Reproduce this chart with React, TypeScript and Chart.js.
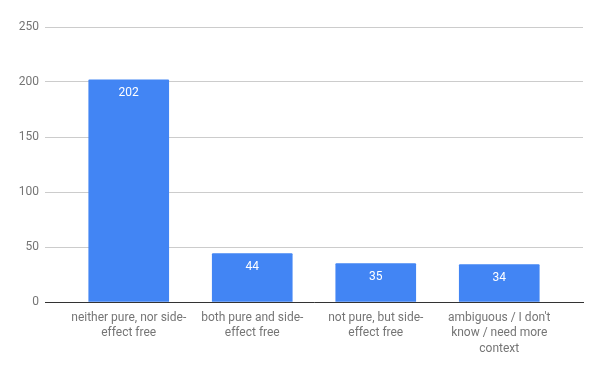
import React, { useEffect, useRef } from "react";
import { Chart, registerables } from "chart.js";

Chart.register(...registerables);

const categories: string[][] = [
  ["neither pure, nor side-", "effect free"],
  ["both pure and side-", "effect free"],
  ["not pure, but side-", "effect free"],
  ["ambiguous / I don't", "know / need more", "context"],
];
const values: number[] = [202, 44, 35, 34];
const yTicks: number[] = [0, 50, 100, 150, 200, 250];

const FONT = "Roboto, 'Noto Sans', sans-serif";

const valueLabels = {
  id: "valueLabels",
  afterDatasetsDraw(chart: any) {
    const ctx = chart.ctx;
    const meta = chart.getDatasetMeta(0);
    ctx.save();
    ctx.fillStyle = "#ffffff";
    ctx.font = `12px ${FONT}`;
    ctx.textAlign = "center";
    ctx.textBaseline = "middle";
    meta.data.forEach((el: any, i: number) => {
      ctx.fillText(String(values[i]), el.x, el.y + 13);
    });
    ctx.restore();
  },
};

export default function App() {
  const ref = useRef<HTMLCanvasElement | null>(null);
  useEffect(() => {
    document.body.style.margin = "0";
    if (!ref.current) return;
    const chart = new Chart(ref.current, {
      type: "bar",
      data: {
        datasets: [
          {
            data: values.map((v, i) => ({ x: i, y: v })) as any,
            backgroundColor: "#4285F4",
            barThickness: 80,
            borderRadius: 1,
            borderSkipped: "bottom",
          },
        ],
      },
      options: {
        animation: false,
        responsive: false,
        maintainAspectRatio: false,
        layout: { padding: { top: 27, right: 17, bottom: 0, left: 0 } },
        plugins: {
          legend: { display: false },
          tooltip: { enabled: false },
        },
        scales: {
          x: {
            type: "linear",
            offset: false,
            min: -0.678,
            max: 3.678,
            afterBuildTicks: (scale: any) => {
              scale.ticks = categories.map((_, i) => ({ value: i }));
            },
            afterFit: (scale: any) => {
              scale.height = 69;
            },
            grid: { display: false, drawTicks: false, offset: false },
            border: { display: true, color: "#333333", width: 1 },
            ticks: {
              autoSkip: false,
              maxRotation: 0,
              minRotation: 0,
              padding: 8,
              color: "#757575",
              font: { family: FONT, size: 12, lineHeight: 1.3 },
              callback: (value: any) => categories[Math.round(Number(value))] ?? "",
            },
          },
          y: {
            min: 0,
            max: 250,
            afterBuildTicks: (scale: any) => {
              scale.ticks = yTicks.map((v) => ({ value: v }));
            },
            afterFit: (scale: any) => {
              scale.width = 45;
            },
            grid: { color: "#cccccc", drawTicks: false, lineWidth: 1 },
            border: { display: false },
            ticks: {
              padding: 6,
              color: "#757575",
              font: { family: FONT, size: 12 },
            },
          },
        },
      },
      plugins: [valueLabels],
    });
    return () => chart.destroy();
  }, []);
  return (
    <div style={{ width: 600, height: 371 }}>
      <canvas ref={ref} width={600} height={371} style={{ display: "block" }} />
    </div>
  );
}
